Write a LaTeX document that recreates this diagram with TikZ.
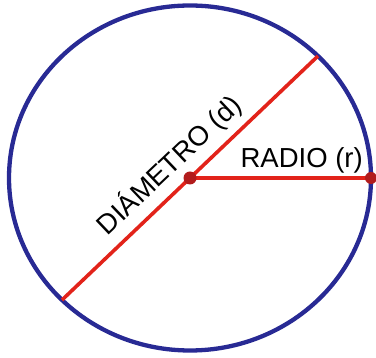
\documentclass[tikz,border=0pt]{standalone}
\usepackage{fontspec}
\setmainfont{Liberation Sans}
\definecolor{rimblue}{RGB}{40,42,148}
\definecolor{linered}{RGB}{226,35,26}
\definecolor{dotred}{RGB}{178,28,28}
\tikzset{
  rim/.style={draw=rimblue, line width=4.3pt},
  segline/.style={draw=linered, line width=3.6pt},
  bigdot/.style={circle, fill=dotred, inner sep=0pt, minimum size=13pt},
  smalldot/.style={circle, fill=dotred, inner sep=0pt, minimum size=12pt},
  lbl/.style={inner sep=0pt, anchor=base, font=\fontsize{27.5}{33}\selectfont}
}
\begin{document}
\begin{tikzpicture}[x=1pt,y=-1pt]
\useasboundingbox (0,0) rectangle (376,358);
\coordinate (O) at (190,178);
\draw[rim] (O) ellipse [x radius=181, y radius=172.5];
\coordinate (dA) at (318,56);
\coordinate (dB) at (62,300);
\coordinate (rE) at (371,178);
\draw[segline] (dB) -- (dA);
\draw[segline] (O) -- (rE);
\node[bigdot] (cdot) at (O) {};
\node[smalldot] (edot) at (rE) {};
\node[lbl, rotate=43.6] (dlab) at (175.3,171.8) {DIÁMETRO (d)};
\node[lbl] (rlab) at (301.7,168) {RADIO (r)};
\end{tikzpicture}
\end{document}
